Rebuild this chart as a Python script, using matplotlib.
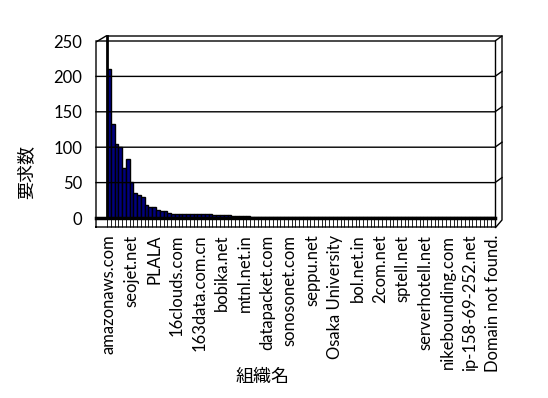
import matplotlib
matplotlib.use("Agg")
import numpy as np
from matplotlib import pyplot as plt
from matplotlib.lines import Line2D

plt.rcParams['font.family'] = ['Lato', 'Noto Sans CJK JP', 'DejaVu Sans']

# request counts per organisation, sorted as in the source sheet
counts = [210, 133, 104, 100, 71, 83, 51, 36, 33, 30,
          19, 16, 16, 11, 10, 10, 7, 6, 6, 6,
          6, 6, 5, 5, 5, 5, 5, 5, 4, 4,
          4, 4, 4, 3, 3, 3, 3, 3, 2, 2,
          2, 2, 2, 2, 2, 2, 1, 1, 1, 1,
          1, 1, 1, 1, 1, 1, 1, 1, 1, 1,
          1, 1, 1, 1, 1, 1, 1, 1, 1, 1,
          1, 1, 1, 1, 1, 1, 1, 1, 1, 1,
          1, 1, 1, 1, 1, 1, 1, 1, 1, 1,
          1, 1, 1, 1, 1, 1, 1, 1, 1, 1,
          1, 1, 1]

# only every 6th organisation gets a label
tick_labels = ["amazonaws.com", "seojet.net", "PLALA", "16clouds.com",
               "163data.com.cn", "bobika.net", "mtnl.net.in", "datapacket.com",
               "sonosonet.com", "seppu.net", "Osaka University", "bol.net.in",
               "2com.net", "sptell.net", "serverhotell.net", "nikebounding.com",
               "ip-158-69-252.net", "Domain not found."]
label_step = 6
y_ticks = [0, 50, 100, 150, 200, 250]

W, H = 548, 398
AX_L, AX_R, AX_T, AX_B = 107, 495, 41, 218

fig = plt.figure(figsize=(W / 100, H / 100), dpi=100)
ax = fig.add_axes([AX_L / W, 1 - AX_B / H, (AX_R - AX_L) / W, (AX_B - AX_T) / H])

n = len(counts)
x = np.arange(n)
ax.bar(x, counts, width=1.0, color="#000080", edgecolor="black", linewidth=1.0, zorder=3)

ax.set_xlim(-0.5, n - 0.5)
ax.set_ylim(0, 250)
for s in ax.spines.values():
    s.set_visible(False)


def to_ax(px, py):
    return (px - AX_L) / (AX_R - AX_L), (AX_B - py) / (AX_B - AX_T)


def frame_line(points, lw=1.0):
    xs, ys = zip(*[to_ax(px, py) for px, py in points])
    ax.add_line(Line2D(xs, ys, transform=ax.transAxes, color="black",
                       linewidth=lw, clip_on=False, zorder=4))


# gridlines on back wall with a little slant on the side wall
for v in y_ticks[1:]:
    py = AX_B - v / 250 * (AX_B - AX_T)
    frame_line([(96, py), (495, py), (502, py - 5)])

# box edges (fake 3d)
frame_line([(96, 227), (96, 42), (106, 36), (502, 36), (502, 220), (496, 227), (96, 227)])
frame_line([(495, 41), (495, 227)])
frame_line([(107, 36), (107, 218)], lw=2.0)
frame_line([(96, 218), (495, 218)], lw=2.5)

# floor tick marks at category borders
ax.vlines(np.arange(n + 1) - 0.5, to_ax(0, 227)[1], 0, transform=ax.get_xaxis_transform(),
          colors="black", linewidth=0.6, clip_on=False, zorder=4)

ax.set_yticks(y_ticks)
ax.set_yticklabels([str(v) for v in y_ticks], fontsize=12)
ax.tick_params(axis="y", length=0, pad=18)

ax.set_xticks(x[::label_step])
ax.set_xticklabels(tick_labels, rotation=90, fontsize=12)
ax.tick_params(axis="x", length=0, pad=12)

fig.text(26 / W, 1 - 172 / H, "要求数", rotation=90, fontsize=13,
         ha="center", va="center")
fig.text(263 / W, 1 - 377 / H, "組織名", fontsize=13, ha="center", va="center")

fig.savefig("out.png", dpi=100)
